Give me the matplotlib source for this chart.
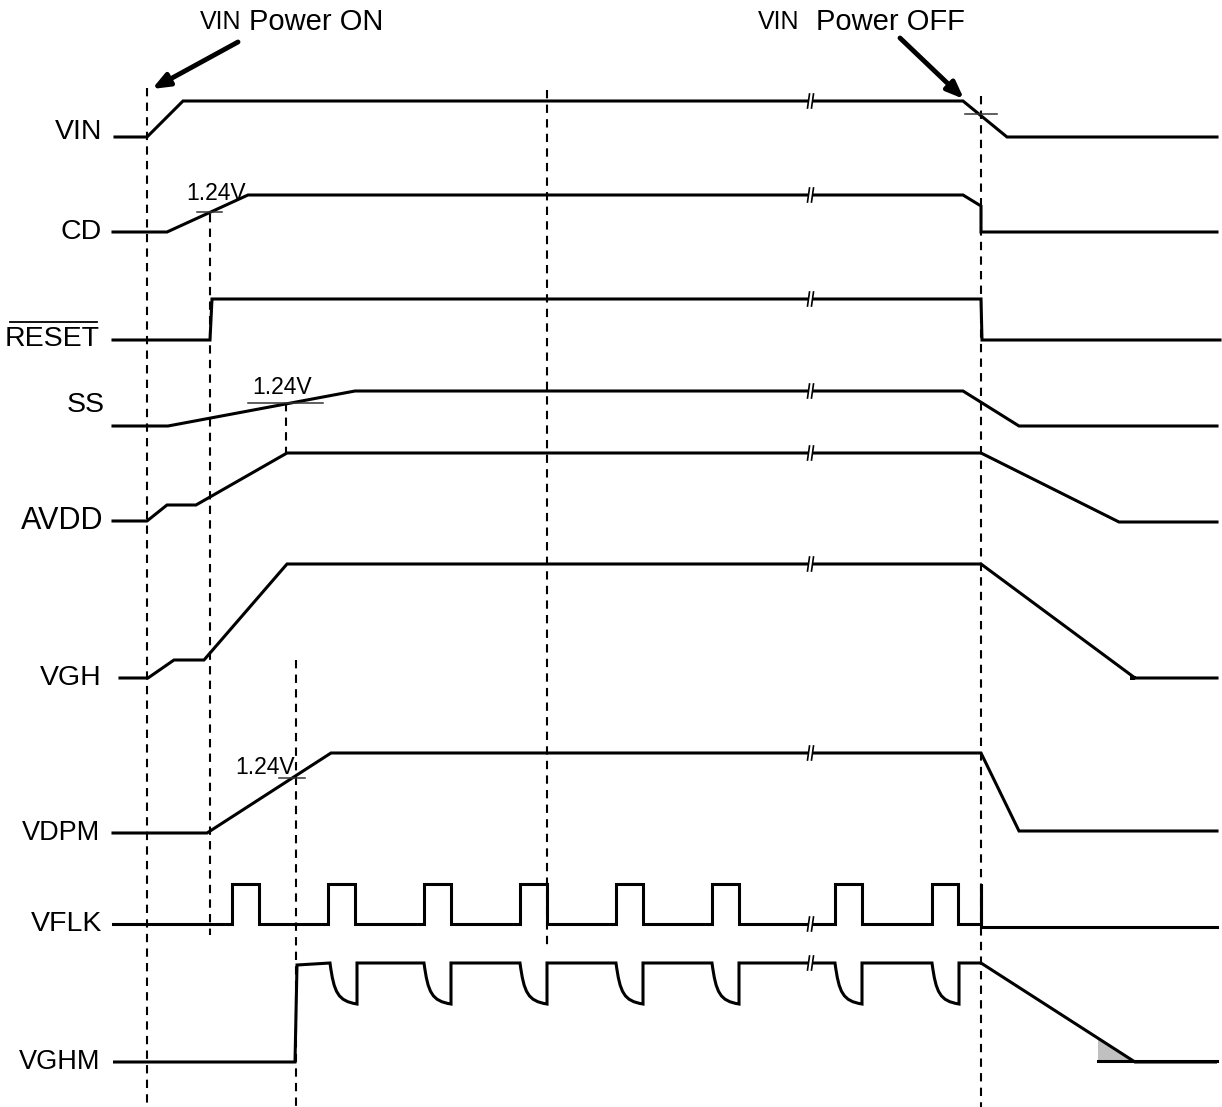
import matplotlib.pyplot as plt
from matplotlib.path import Path
from matplotlib.patches import PathPatch, Polygon, Rectangle

plt.rcParams['font.family'] = ['Liberation Sans', 'DejaVu Sans']

# waveform breakpoints: time (px) and level (px, downwards)
vin_t = [115, 147, 183, 963, 1007, 1217]
vin_v = [137, 137, 101, 101, 137, 137]
cd_t = [113, 167, 248, 963, 981, 981, 1217]
cd_v = [232, 232, 195, 195, 206, 232, 232]
reset_t = [113, 210, 212, 981, 982, 1220]
reset_v = [340, 340, 299, 299, 340, 340]
ss_t = [113, 168, 355, 963, 1019, 1217]
ss_v = [426, 426, 391, 391, 426, 426]
avdd_t = [113, 147, 167, 196, 287, 981, 1119, 1217]
avdd_v = [521, 521, 505, 505, 453, 453, 522, 522]
vgh_t = [120, 148, 174, 204, 287, 981, 1135, 1130, 1217]
vgh_v = [678, 678, 660, 660, 564, 564, 678, 678, 678]
vdpm_t = [113, 207, 331, 981, 1019, 1217]
vdpm_v = [833, 833, 753, 753, 831, 831]

vflk_low, vflk_high = 924, 884
vflk_rise = [232, 328, 424, 520, 616, 712, 835, 932]
vflk_fall = [259, 355, 451, 547, 643, 739, 862, 958]

vghm_low, vghm_high = 1062, 963
vghm_on = 296
vghm_dips = [330, 424, 520, 616, 712, 835, 932]
vghm_off_t = [981, 1135, 1217]
vghm_off_v = [963, 1062, 1062]

names = ['VIN', 'CD', 'RESET', 'SS', 'AVDD', 'VGH', 'VDPM', 'VFLK', 'VGHM']
name_y = [132, 232, 339, 405, 521, 678, 833, 924, 1062]
name_x = [102, 102, 100, 105, 103, 102, 100, 102, 100]
name_size = [20.5, 20.5, 20.5, 20.5, 22, 20.5, 19.5, 20.5, 19.5]
break_y = [101, 195, 299, 391, 453, 564, 753, 924, 963]

guides_x = [147, 210, 286, 296, 547, 981]
guides_y0 = [88, 214, 403, 660, 90, 96]
guides_y1 = [1107, 935, 455, 1107, 945, 1107]

LW = 2.2
fig = plt.figure(figsize=(12.22, 11.07), dpi=100)
ax = fig.add_axes([0, 0, 1, 1])
ax.set_xlim(0, 1222)
ax.set_ylim(1107, 0)
ax.axis('off')

for x, y0, y1 in zip(guides_x, guides_y0, guides_y1):
    ax.plot([x, x], [y0, y1], color='black', lw=1.5, ls=(0, (4, 3)), zorder=1)

for t, v in [(vin_t, vin_v), (cd_t, cd_v), (reset_t, reset_v), (ss_t, ss_v),
             (avdd_t, avdd_v), (vgh_t, vgh_v), (vdpm_t, vdpm_v)]:
    ax.plot(t, v, color='black', lw=LW, solid_joinstyle='miter', zorder=2)

# VFLK pulse train
ft, fv = [113], [vflk_low]
for r, f in zip(vflk_rise, vflk_fall):
    ft += [r, r, f, f]
    fv += [vflk_low, vflk_high, vflk_high, vflk_low]
ft += [981, 981, 981, 1217]
fv += [vflk_low, vflk_high, 927, 927]
ax.plot(ft, fv, color='black', lw=LW, solid_joinstyle='miter', zorder=2)

# VGHM with rounded dips
verts = [(113, vghm_low), (vghm_on - 1, vghm_low), (vghm_on + 1, 965)]
codes = [Path.MOVETO, Path.LINETO, Path.LINETO]
for d in vghm_dips:
    verts += [(d, vghm_high), (d + 4, vghm_high + 30), (d + 8, vghm_high + 38),
              (d + 27, vghm_high + 41), (d + 27, vghm_high)]
    codes += [Path.LINETO, Path.CURVE4, Path.CURVE4, Path.CURVE4, Path.LINETO]
for t, v in zip(vghm_off_t, vghm_off_v):
    verts.append((t, v))
    codes.append(Path.LINETO)
ax.add_patch(PathPatch(Path(verts, codes), fill=False, lw=LW, color='black',
                       joinstyle='miter', zorder=2))
ax.plot([1098, 1217], [1061, 1061], color='black', lw=LW, zorder=2)
ax.add_patch(Polygon([(1098, 1039), (1098, 1060), (1133, 1060)], closed=True,
                     facecolor='#c0c0c0', edgecolor='none', zorder=1))

# break marks
for y in break_y:
    bx = 811
    ax.add_patch(Rectangle((bx - 2, y - 3), 4, 6, facecolor='white', edgecolor='none', zorder=3))
    for dx in (-2.5, 1.5):
        ax.plot([bx + dx - 1, bx + dx + 1], [y + 7, y - 7], color='black', lw=1.2, zorder=4)

# signal names
for n, x, y, s in zip(names, name_x, name_y, name_size):
    ax.text(x, y, n, ha='right', va='center', fontsize=s)
ax.plot([10, 97], [322, 322], color='black', lw=1.3)

# 1.24V thresholds
for tx, ty, x0, x1, ly in [(216, 194, 197, 222, 212), (282, 388, 248, 323, 403),
                           (265, 767, 279, 305, 778)]:
    ax.plot([x0, x1], [ly, ly], color='#333333', lw=1.1, zorder=2)
    ax.text(tx, ty, '1.24V', ha='center', va='center', fontsize=16.5)

# VIN crosshair at power off
ax.plot([965, 997], [114, 114], color='#333333', lw=1.1, zorder=2)

# annotations
ax.text(221, 22, 'VIN', ha='center', va='center', fontsize=18)
ax.text(249, 22, 'Power ON', ha='left', va='center', fontsize=21)
ax.text(779, 22, 'VIN', ha='center', va='center', fontsize=18)
ax.text(816, 22, 'Power OFF', ha='left', va='center', fontsize=21)
arrow = dict(arrowstyle='-|>,head_length=1.0,head_width=0.4', lw=3.5, color='black',
             shrinkA=0, shrinkB=0)
ax.annotate('', xy=(152, 89), xytext=(238, 42), arrowprops=arrow)
ax.annotate('', xy=(964, 99), xytext=(900, 38), arrowprops=arrow)

fig.savefig('out.png', dpi=100)
